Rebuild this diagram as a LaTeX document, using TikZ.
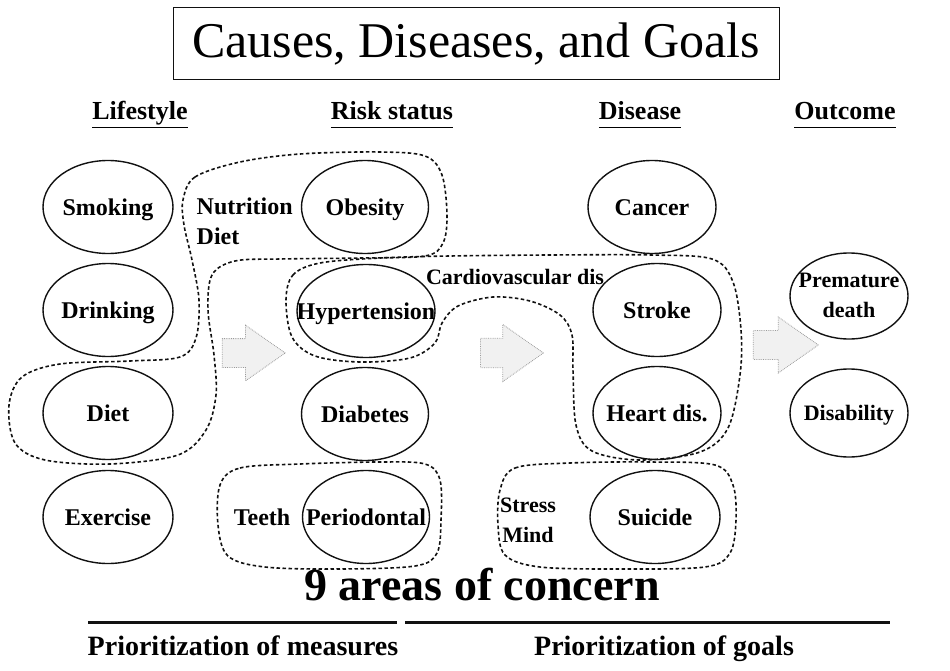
\documentclass[tikz,border=0pt]{standalone}
\usepackage{fontspec}
\setmainfont{Liberation Serif}
\usetikzlibrary{shapes.geometric, shapes.arrows}
\definecolor{ink}{HTML}{111111}
\definecolor{arrowline}{HTML}{9A9A9A}
\definecolor{arrowfill}{HTML}{F1F1F1}
\newcommand{\inlbl}[1]{\makebox[0pt]{#1}}
\newcommand{\headline}[1]{\underline{\vphantom{Ay}#1}}

\begin{document}
\begin{tikzpicture}[x=1pt, y=-1pt, line width=1.4pt,
  oval/.style={ellipse, draw=ink, minimum width=#1, minimum height=93pt,
               inner sep=0pt, font=\fontsize{24}{28}\selectfont\bfseries},
  oval/.default=128pt,
  zone/.style={draw=ink, dashed, dash pattern=on 3.5pt off 2.5pt, line width=1.6pt},
  heading/.style={font=\fontsize{26}{30}\selectfont\bfseries, anchor=base},
  tag/.style={font=\fontsize{24}{30}\selectfont\bfseries, align=left, inner sep=0pt},
  blockarrow/.style={single arrow, draw=arrowline, densely dotted, line width=0.8pt,
                     fill=arrowfill, inner xsep=0pt, inner ysep=14pt,
                     minimum height=63pt, minimum width=55pt,
                     single arrow head extend=13.5pt, single arrow tip angle=70}]

\useasboundingbox (0,0) rectangle (950,671);

% Title
\node[draw=ink, line width=1pt, minimum width=606pt, minimum height=72pt, inner sep=0pt,
      font=\fontsize{50}{56}\selectfont] (title) at (476,44) {Causes, Diseases, and Goals};

% Column headings
\node[heading] (lifestyle) at (140,120) {\headline{Lifestyle}};
\node[heading] (riskstatus) at (392,120) {\headline{Risk status}};
\node[heading] (disease) at (640,120) {\headline{Disease}};
\node[heading] (outcome) at (845,120) {\headline{Outcome}};

% Ovals
\foreach \nm/\xx/\yy/\ww/\txt in {smoking/108/207/130pt/Smoking, drinking/108/310/130pt/Drinking,
    diet/108/413/130pt/Diet, exercise/108/517/130pt/Exercise,
    obesity/365/207/127pt/Obesity, hypertension/366/311/138pt/Hypertension,
    diabetes/365/414/127pt/Diabetes, periodontal/366/517/127pt/Periodontal,
    cancer/652/207/128pt/Cancer, stroke/657/310/128pt/Stroke,
    heartdis/657/413/128pt/Heart dis., suicide/655/517/130pt/Suicide} {
  \node[oval=\ww, text height=17pt, text depth=0pt] (\nm) at (\xx,\yy) {\inlbl{\txt}};
}
\node[oval=118pt, minimum height=86pt, font=\fontsize{22}{30}\selectfont\bfseries] (premature) at (849,296)
  {\inlbl{\begin{tabular}{@{}c@{}}Premature\\death\end{tabular}}};
\node[oval=118pt, minimum height=88pt, text height=15pt, text depth=0pt,
      font=\fontsize{22}{28}\selectfont\bfseries] (disability) at (849,413)
  {\inlbl{Disability}};

% Free labels
\node[tag, anchor=west] (nutrition) at (196,221) {Nutrition\\Diet};
\node[font=\fontsize{22}{26}\selectfont\bfseries, inner sep=0pt] (cardio) at (515,277) {Cardiovascular dis};
\node[tag, text height=17pt, text depth=0pt] (teeth) at (262,517) {Teeth};
\node[font=\fontsize{22}{30}\selectfont\bfseries, align=center, inner sep=0pt] (stress) at (528,520) {Stress\\Mind};

% Dashed groupings
\draw[zone] plot[smooth cycle, tension=0.55] coordinates {
  (183,200) (195,177) (240,162) (300,154) (380,152) (425,156) (442,175) (447,215)
  (443,243) (425,256) (360,258) (280,259) (235,261) (212,275) (208,310) (214,355)
  (216,395) (206,430) (178,455) (110,464) (45,460) (15,443) (9,405) (22,377)
  (60,364) (130,361) (180,357) (196,338) (199,300) (192,260) (184,225)};
\draw[zone] plot[smooth cycle, tension=0.55] coordinates {
  (286,300) (293,275) (320,263) (380,258) (450,256) (550,255) (650,255) (712,259)
  (733,282) (741,330) (740,375) (728,428) (700,452) (640,460) (592,451) (576,425)
  (573,370) (572,335) (560,315) (530,301) (493,297) (458,306) (442,323) (435,343)
  (410,358) (360,362) (315,356) (292,337)};
\draw[zone] plot[smooth cycle, tension=0.55] coordinates {
  (220,485) (240,468) (300,464) (380,462) (425,464) (440,480) (441,520) (437,553)
  (415,566) (340,569) (265,567) (228,556) (218,525)};
\draw[zone] plot[smooth cycle, tension=0.55] coordinates {
  (500,490) (515,468) (570,463) (650,462) (715,465) (733,485) (736,520) (730,553)
  (705,567) (620,569) (540,567) (505,555) (498,525)};

% Block arrows
\node[blockarrow] (arrowA) at (243.5,353) {};
\node[blockarrow, minimum width=57pt] (arrowB) at (501.5,353) {};
\node[blockarrow, minimum height=65pt, minimum width=56pt] (arrowC) at (775.5,345) {};

% Bottom
\node[font=\fontsize{46}{50}\selectfont\bfseries] (areas) at (482,585) {9 areas of concern};
\draw[ink, line width=3pt] (88,622) -- (397,622);
\draw[ink, line width=3pt] (405,622) -- (890,622);
\node[font=\fontsize{28}{32}\selectfont\bfseries, anchor=base] (measures) at (243,655) {Prioritization of measures};
\node[font=\fontsize{28}{32}\selectfont\bfseries, anchor=base] (goals) at (664,655) {Prioritization of goals};

\end{tikzpicture}
\end{document}
